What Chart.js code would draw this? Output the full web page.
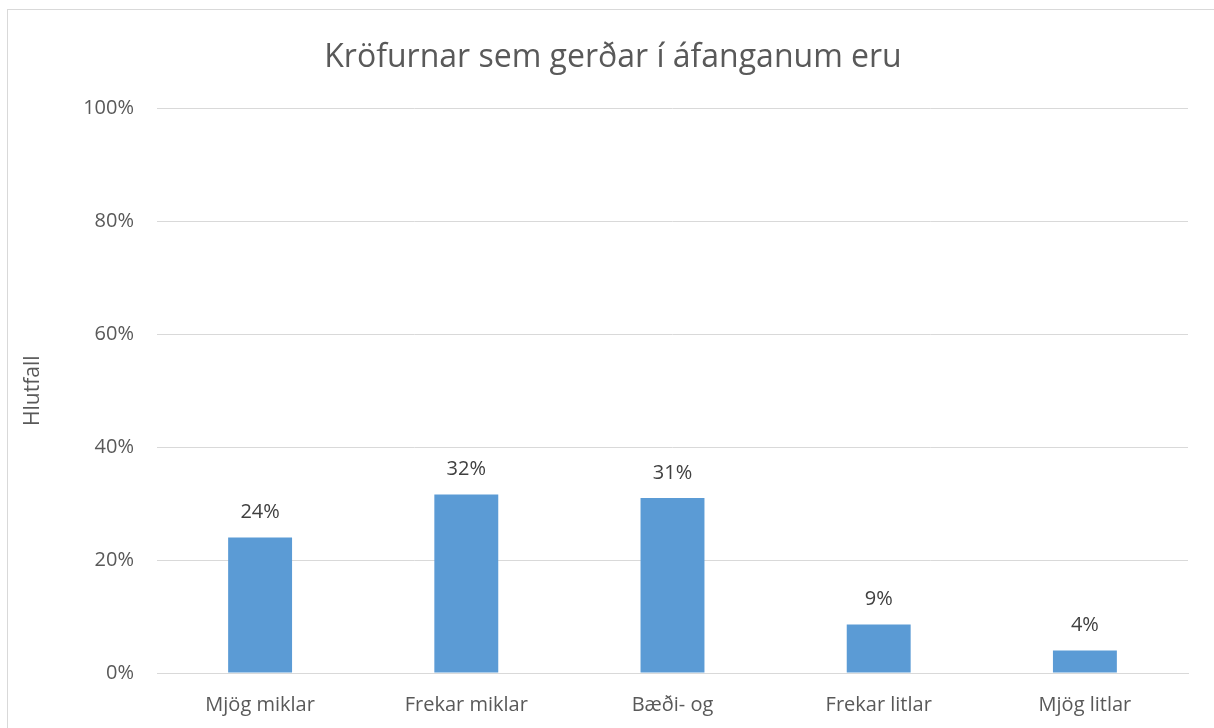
<!DOCTYPE html>
<html>
<head>
<meta charset="utf-8">
<script src="https://cdn.jsdelivr.net/npm/chart.js@4.4.1/dist/chart.umd.min.js"></script>
<style>
  html, body { margin: 0; padding: 0; background: #fff; overflow: hidden; }
  #wrap { position: absolute; left: 0; top: 0; width: 1214px; height: 728px; }
  #frame {
    position: absolute; left: 7px; top: 9px; width: 1210px; height: 725px;
    border-left: 1px solid #d9d9d9; border-top: 1px solid #d9d9d9;
  }
</style>
</head>
<body>
<div id="frame"></div>
<div id="wrap"><canvas id="myChart"></canvas></div>
<script>
const flokkar = ["Mjög miklar", "Frekar miklar", "Bæði- og", "Frekar litlar", "Mjög litlar"];
const hlutfall = [24, 31.6, 31, 8.6, 4];
const merki = ["24%", "32%", "31%", "9%", "4%"];
const yTicks = [0, 20, 40, 60, 80, 100];

const letur = "'Open Sans', 'Noto Sans', sans-serif";

// teiknar gildin fyrir ofan súlurnar
const gildaMerki = {
  id: "gildaMerki",
  afterDatasetsDraw(chart) {
    const ctx = chart.ctx;
    const meta = chart.getDatasetMeta(0);
    ctx.save();
    ctx.font = "20px " + letur;
    ctx.fillStyle = "#404040";
    ctx.textAlign = "center";
    ctx.textBaseline = "middle";
    meta.data.forEach((bar, i) => {
      ctx.fillText(merki[i], bar.x, bar.y - 25);
    });
    ctx.restore();
  }
};

const data = {
  labels: flokkar,
  datasets: [
    {
      label: "Hlutfall",
      backgroundColor: "#5b9bd5",
      data: hlutfall,
      categoryPercentage: 1,
      barPercentage: 0.31,
    },
  ],
};

const config = {
  type: "bar",
  data: data,
  options: {
    responsive: true,
    maintainAspectRatio: false,
    animation: false,
    layout: { padding: { left: 38, right: 26, top: 0, bottom: 0 } },
    plugins: {
      legend: { display: false },
      tooltip: { enabled: false },
      title: {
        display: true,
        text: "Kröfurnar sem gerðar í áfanganum eru",
        color: "#595959",
        font: { family: letur, size: 32, weight: "normal" },
        padding: { top: 39, bottom: 31 },
      },
    },
    scales: {
      x: {
        grid: { display: false },
        border: { display: true, color: "#d9d9d9" },
        ticks: { color: "#595959", font: { family: letur, size: 20 }, padding: 12 },
        afterFit: (scale) => { scale.height = 55; },
      },
      y: {
        min: 0,
        max: 100,
        afterBuildTicks: (scale) => { scale.ticks = yTicks.map((v) => ({ value: v })); },
        grid: { color: "#d9d9d9", drawTicks: false },
        border: { display: false },
        ticks: {
          color: "#595959",
          font: { family: letur, size: 20 },
          padding: 23,
          callback: (v) => v + "%",
        },
        title: {
          display: true,
          text: "Hlutfall",
          color: "#595959",
          font: { family: letur, size: 21 },
          padding: { top: -18, bottom: 0 },
        },
        afterFit: (scale) => { scale.width = 119; },
      },
    },
  },
  plugins: [gildaMerki],
};

const myChart = new Chart(document.getElementById("myChart"), config);
</script>
</body>
</html>
